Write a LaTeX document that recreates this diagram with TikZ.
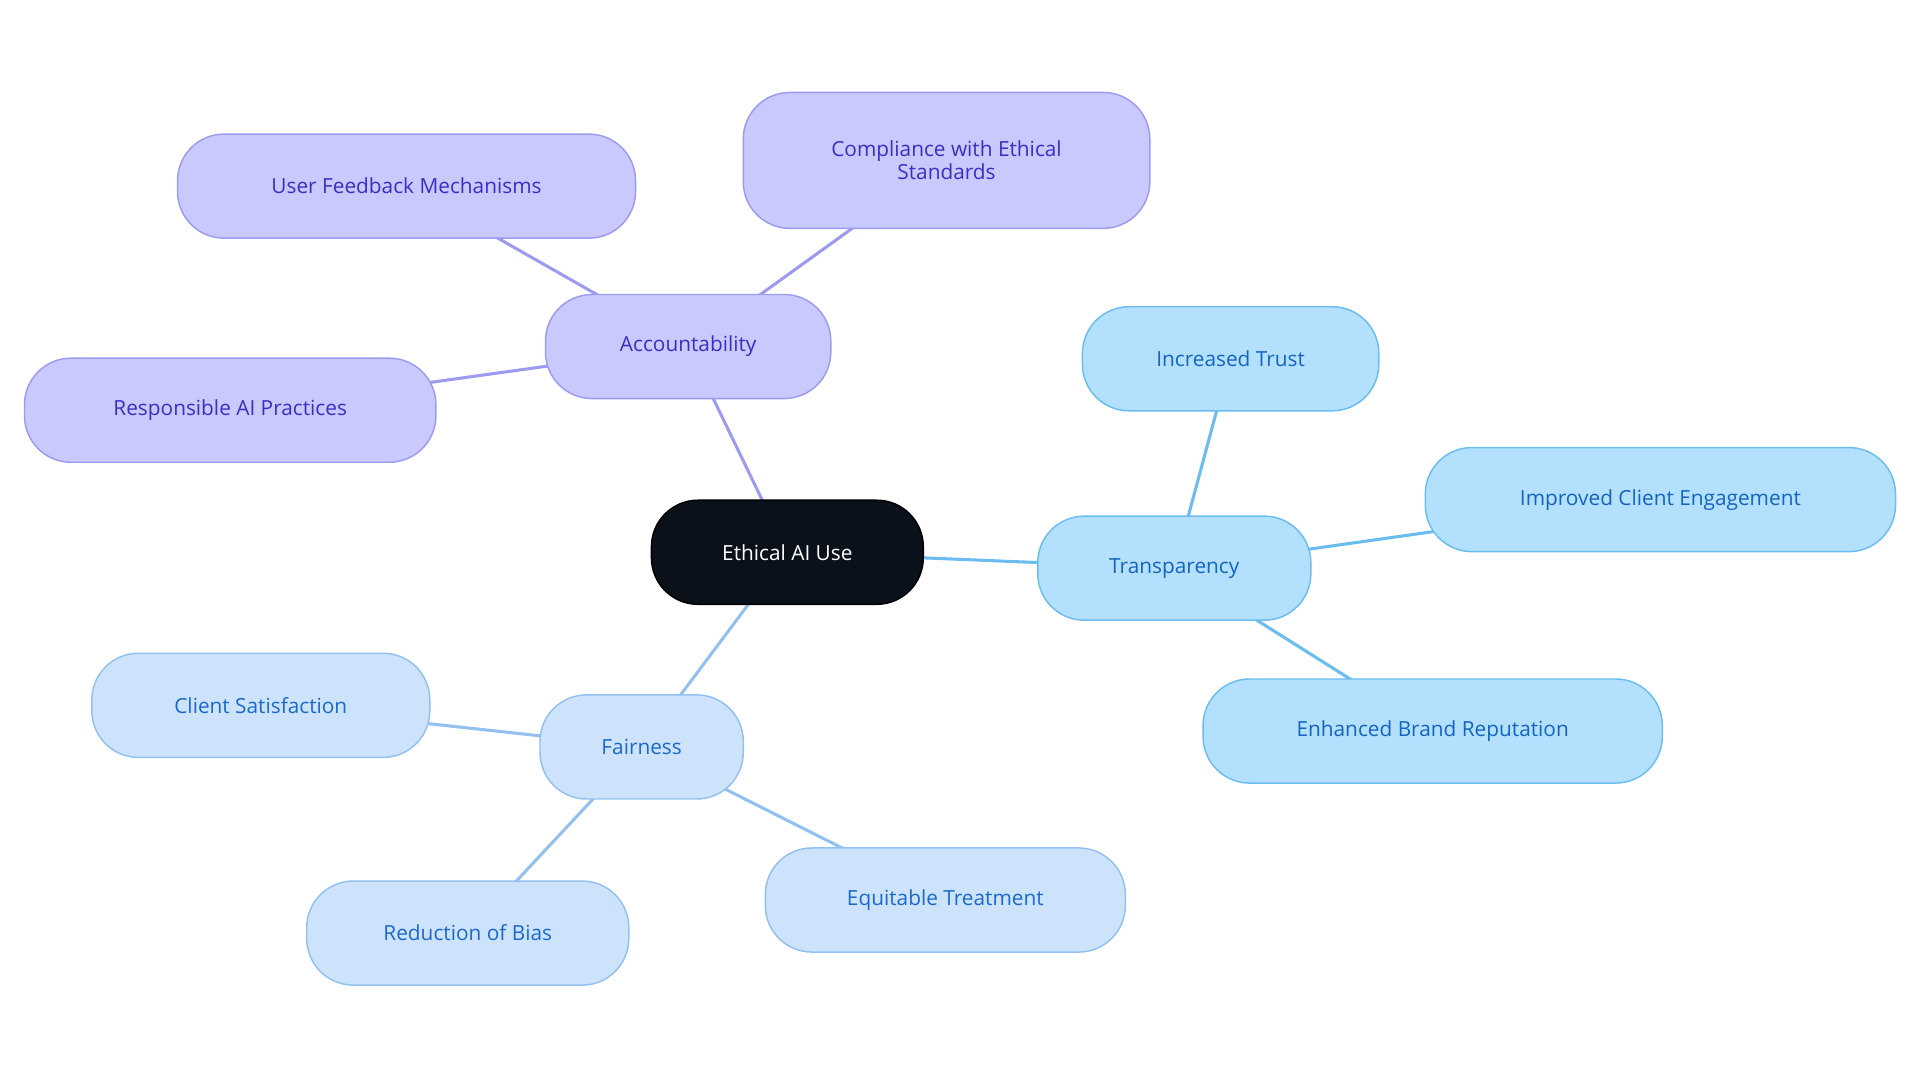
\documentclass[tikz,border=0pt]{standalone}
\usepackage{fontspec}
\setmainfont{Open Sans}
\usetikzlibrary{backgrounds}
\definecolor{rootf}{HTML}{0B111A}
\definecolor{accf}{HTML}{C9C9FD}\definecolor{accd}{HTML}{9D9BF0}\definecolor{acct}{HTML}{3A2FC4}
\definecolor{traf}{HTML}{B3E0FD}\definecolor{trad}{HTML}{6BBDF0}\definecolor{trat}{HTML}{1565C0}
\definecolor{faif}{HTML}{CDE3FB}\definecolor{faid}{HTML}{92C1F0}\definecolor{fait}{HTML}{1A6ACC}
\begin{document}
\begin{tikzpicture}[x=1pt,y=-1pt,
 box/.style={rounded corners=38pt,minimum height=85pt,line width=1.2pt,font=\fontsize{17}{19}\selectfont,align=center,inner sep=0pt},
 acc/.style={box,fill=accf,draw=accd,text=acct},
 tra/.style={box,fill=traf,draw=trad,text=trat},
 fai/.style={box,fill=faif,draw=faid,text=fait},
 ea/.style={line width=2.5pt,draw=accd},
 et/.style={line width=2.5pt,draw=trad},
 ef/.style={line width=2.5pt,draw=faid}]
\useasboundingbox (0,0) rectangle (1568,884);
\node[box,fill=rootf,draw=black,text=white,minimum width=222pt] (root) at (643,451) {Ethical AI Use};
\node[acc,minimum width=233pt] (acc) at (562,283) {Accountability};
\node[acc,minimum width=374pt] (ufm) at (332,152) {User Feedback Mechanisms};
\node[acc,minimum width=332pt,minimum height=111pt] (comp) at (773,131) {Compliance with Ethical\\Standards};
\node[acc,minimum width=336pt] (rap) at (188,335) {Responsible AI Practices};
\node[tra,minimum width=223pt] (tra) at (959,464) {Transparency};
\node[tra,minimum width=242pt] (it) at (1005,293) {Increased Trust};
\node[tra,minimum width=384pt] (ice) at (1356,408) {Improved Client Engagement};
\node[tra,minimum width=375pt] (ebr) at (1170,597) {Enhanced Brand Reputation};
\node[fai,minimum width=166pt] (fai) at (524,610) {Fairness};
\node[fai,minimum width=276pt] (cs) at (213,576) {Client Satisfaction};
\node[fai,minimum width=263pt] (rb) at (382,762) {Reduction of Bias};
\node[fai,minimum width=294pt] (et) at (772,735) {Equitable Treatment};
\begin{scope}[on background layer]
\draw[ea] (root.center)--(acc.center);
\draw[ea] (acc.center)--(ufm.center);
\draw[ea] (acc.center)--(comp.center);
\draw[ea] (acc.center)--(rap.center);
\draw[et] (root.center)--(tra.center);
\draw[et] (tra.center)--(it.center);
\draw[et] (tra.center)--(ice.center);
\draw[et] (tra.center)--(ebr.center);
\draw[ef] (root.center)--(fai.center);
\draw[ef] (fai.center)--(cs.center);
\draw[ef] (fai.center)--(rb.center);
\draw[ef] (fai.center)--(et.center);
\end{scope}
\end{tikzpicture}
\end{document}
